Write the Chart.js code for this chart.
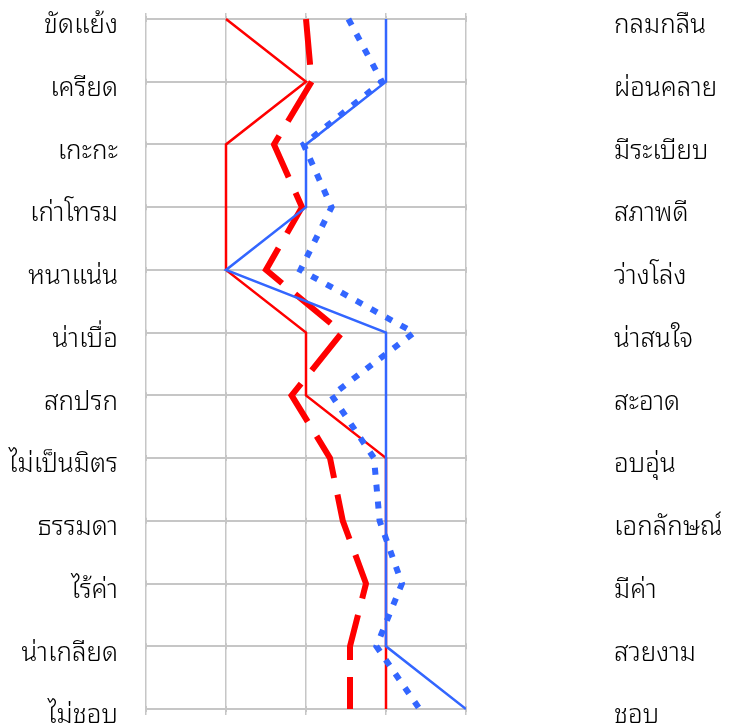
<!DOCTYPE html>
<html>
<head>
<meta charset="utf-8">
<script src="https://cdn.jsdelivr.net/npm/chart.js@4/dist/chart.umd.min.js"></script>
<style>
  html, body { margin: 0; padding: 0; background: #fff; }
  #wrap { width: 738px; height: 728px; position: relative; }
</style>
</head>
<body>
<div id="wrap"><canvas id="profileChart"></canvas></div>
<script>
// ─── Semantic differential pairs ──────────────────────────
const leftLabels = ['ขัดแย้ง','เครียด','เกะกะ','เก่าโทรม','หนาแน่น','น่าเบื่อ','สกปรก','ไม่เป็นมิตร','ธรรมดา','ไร้ค่า','น่าเกลียด','ไม่ชอบ'];
const rightLabels = ['กลมกลืน','ผ่อนคลาย','มีระเบียบ','สภาพดี','ว่างโล่ง','น่าสนใจ','สะอาด','อบอุ่น','เอกลักษณ์','มีค่า','สวยงาม','ชอบ'];

// ─── Scale range ──────────────────────────────────────────
const scaleMin = 1;
const scaleMax = 5;

// ─── Mean scores ──────────────────────────────────────────
const redSolid   = [2, 3, 2, 2, 2, 3, 3, 4, 4, 4, 4, 4];
const redDashed  = [3.0, 3.07, 2.6, 2.95, 2.5, 3.45, 2.82, 3.3, 3.46, 3.75, 3.55, 3.55];
const blueSolid  = [4, 4, 3, 3, 2, 4, 4, 4, 4, 4, 4, 5];
const blueDotted = [3.53, 3.95, 2.97, 3.32, 2.93, 4.35, 3.32, 3.85, 3.92, 4.2, 3.88, 4.42];

const RED = '#ff0000';
const BLUE = '#3366ff';
const GRID = '#c6c6c6';
const FONT = "'Noto Sans Thai Looped', 'Noto Sans Thai', sans-serif";
const labelFont = { family: FONT, size: 26, weight: 300 };

// small marks where the grid lines cross
const crossMarks = {
  id: 'crossMarks',
  beforeDatasetsDraw(chart) {
    const { ctx, scales: { x, y } } = chart;
    ctx.save();
    ctx.strokeStyle = GRID;
    ctx.lineWidth = 2;
    y.ticks.forEach((t, i) => {
      const py = y.getPixelForTick(i);
      x.ticks.forEach(xt => {
        const px = x.getPixelForValue(xt.value);
        ctx.beginPath();
        ctx.moveTo(px, py - 3);
        ctx.lineTo(px, py + 3);
        ctx.stroke();
      });
    });
    ctx.restore();
  }
};

// keep the label padding from pushing the plot area inwards
function fixSide(width) {
  return s => {
    s.width = width;
    s.paddingTop = 0;
    s.paddingBottom = 0;
  };
}

const ctx = document.getElementById('profileChart');
const chart = new Chart(ctx, {
  type: 'line',
  data: {
    labels: leftLabels,
    datasets: [
      { data: redSolid, borderColor: RED, borderWidth: 2.5, order: 4 },
      { data: redDashed, borderColor: RED, borderWidth: 6, borderDash: [46, 17], order: 3 },
      { data: blueSolid, borderColor: BLUE, borderWidth: 2.5, order: 2 },
      { data: blueDotted, borderColor: BLUE, borderWidth: 6, borderDash: [7, 10], order: 1 },
    ],
  },
  options: {
    indexAxis: 'y',
    responsive: true,
    maintainAspectRatio: false,
    animation: false,
    layout: { padding: 0 },
    elements: {
      line: { tension: 0, fill: false, borderCapStyle: 'butt', borderJoinStyle: 'miter' },
      point: { radius: 0, hoverRadius: 0 },
    },
    plugins: {
      legend: { display: false },
      tooltip: { enabled: false },
    },
    scales: {
      x: {
        type: 'linear', position: 'bottom', min: scaleMin, max: scaleMax,
        ticks: { stepSize: 1, display: false },
        grid: { color: GRID, lineWidth: 1.5, tickLength: 6 },
        border: { display: false },
        afterFit: s => { s.height = 19; },
      },
      x2: {
        type: 'linear', position: 'top', min: scaleMin, max: scaleMax,
        ticks: { stepSize: 1, display: false },
        grid: { color: GRID, lineWidth: 1.5, tickLength: 6, drawOnChartArea: false },
        border: { display: false },
        afterFit: s => { s.height = 19; },
      },
      y: {
        type: 'category', position: 'left', offset: false,
        ticks: { color: '#000', padding: 28, labelOffset: 7, font: labelFont },
        grid: { color: GRID, lineWidth: 2, drawTicks: false },
        border: { display: false },
        afterFit: fixSide(146),
      },
      y2: {
        type: 'category', position: 'right', offset: false, labels: rightLabels,
        ticks: { color: '#000', padding: 140, labelOffset: 7, font: labelFont },
        grid: { display: false },
        border: { display: false },
        afterFit: fixSide(272),
      },
    },
  },
  plugins: [crossMarks],
});
</script>
</body>
</html>
